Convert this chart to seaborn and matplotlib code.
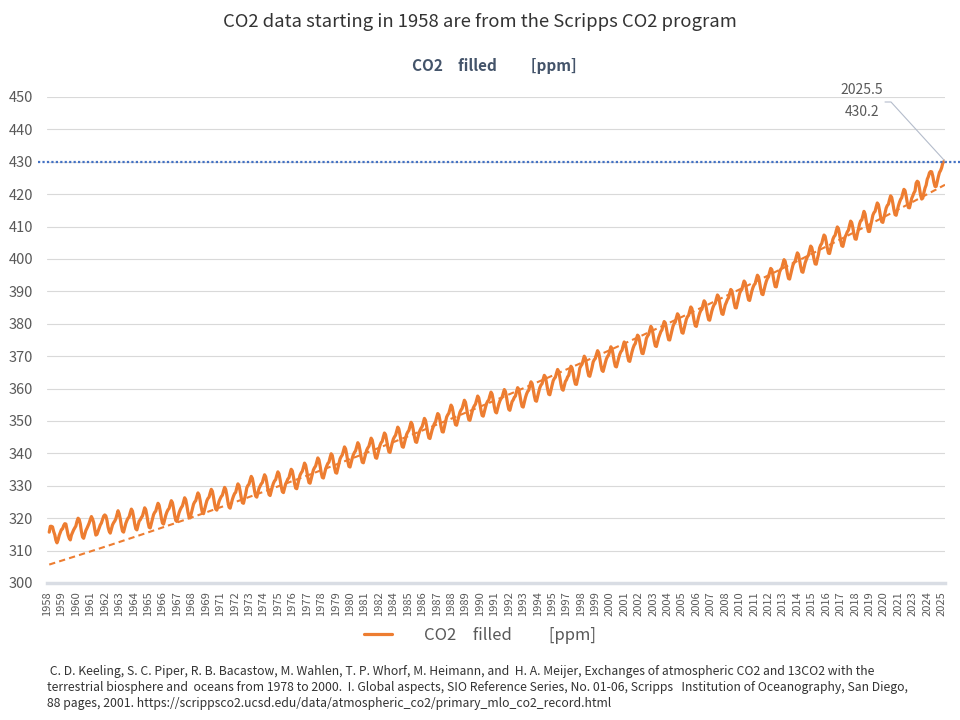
import numpy as np
import pandas as pd
import matplotlib
matplotlib.use("Agg")
import matplotlib.pyplot as plt
import seaborn as sns
from matplotlib.lines import Line2D
from matplotlib.transforms import blended_transform_factory

# 1. data (monthly, Scripps "filled", Jan 1958 - Jun 2025)
# Jan/Feb 1958 carry the source's missing flag -99.99

START_YEAR = 1958
MISSING = -99.99

co2_ppm = [
    -99.99, -99.99, 315.7, 317.5, 317.5, 317.3, 315.9, 314.9, 313.2, 312.4, 313.3, 314.7,  # 1958
    315.6, 316.5, 316.7, 317.7, 318.3, 318.2, 316.5, 314.8, 313.8, 313.3, 314.8, 315.6,  # 1959
    316.4, 317.0, 317.6, 319.0, 320.0, 319.6, 318.2, 315.9, 314.2, 313.8, 315.0, 316.2,  # 1960
    316.9, 317.7, 318.5, 319.6, 320.5, 319.8, 318.7, 316.6, 314.8, 315.0, 316.0, 317.1,  # 1961
    317.9, 318.5, 319.5, 320.6, 321.0, 320.7, 319.4, 317.3, 316.0, 315.4, 316.7, 317.9,  # 1962
    318.6, 319.1, 319.8, 321.0, 322.3, 321.4, 319.8, 317.6, 316.0, 315.7, 317.1, 318.4,  # 1963
    319.3, 320.0, 320.4, 321.7, 322.8, 322.2, 320.4, 318.3, 316.7, 316.4, 317.8, 319.1,  # 1964
    319.5, 320.2, 320.7, 322.0, 323.2, 322.6, 320.8, 318.7, 317.2, 317.0, 318.4, 319.7,  # 1965
    321.1, 321.8, 322.2, 323.5, 324.6, 324.0, 322.2, 320.1, 318.5, 318.2, 319.6, 320.9,  # 1966
    321.9, 322.6, 323.0, 324.3, 325.4, 324.8, 323.0, 320.9, 319.3, 319.0, 320.4, 321.7,  # 1967
    322.6, 323.3, 323.8, 325.1, 326.3, 325.7, 323.9, 321.8, 320.3, 320.1, 321.5, 322.8,  # 1968
    324.3, 325.0, 325.4, 326.7, 327.8, 327.2, 325.4, 323.3, 321.7, 321.4, 322.8, 324.1,  # 1969
    325.4, 326.1, 326.5, 327.8, 328.9, 328.3, 326.5, 324.4, 322.8, 322.5, 323.9, 325.2,  # 1970
    326.0, 326.7, 327.1, 328.4, 329.5, 328.9, 327.1, 325.0, 323.4, 323.1, 324.5, 325.8,  # 1971
    326.8, 327.6, 328.0, 329.4, 330.6, 330.1, 328.3, 326.3, 324.8, 324.6, 326.1, 327.5,  # 1972
    329.4, 330.1, 330.5, 331.8, 332.9, 332.3, 330.5, 328.4, 326.8, 326.5, 327.9, 329.2,  # 1973
    329.9, 330.6, 331.0, 332.3, 333.4, 332.8, 331.0, 328.9, 327.3, 327.0, 328.4, 329.7,  # 1974
    330.8, 331.5, 331.9, 333.2, 334.3, 333.7, 331.9, 329.8, 328.2, 327.9, 329.3, 330.6,  # 1975
    331.3, 332.1, 332.5, 333.9, 335.1, 334.6, 332.8, 330.8, 329.3, 329.1, 330.6, 332.0,  # 1976
    333.3, 334.0, 334.5, 335.8, 337.0, 336.4, 334.6, 332.5, 331.0, 330.8, 332.2, 333.5,  # 1977
    334.9, 335.6, 336.1, 337.4, 338.6, 338.0, 336.2, 334.1, 332.6, 332.4, 333.8, 335.1,  # 1978
    336.1, 336.9, 337.3, 338.7, 339.9, 339.4, 337.6, 335.6, 334.1, 333.9, 335.4, 336.8,  # 1979
    338.3, 339.0, 339.5, 340.8, 342.0, 341.4, 339.6, 337.5, 336.0, 335.8, 337.2, 338.5,  # 1980
    339.6, 340.3, 340.8, 342.1, 343.3, 342.7, 340.9, 338.8, 337.3, 337.1, 338.5, 339.8,  # 1981
    341.0, 341.7, 342.2, 343.5, 344.7, 344.1, 342.3, 340.2, 338.7, 338.5, 339.9, 341.2,  # 1982
    342.5, 343.3, 343.7, 345.1, 346.3, 345.8, 344.0, 342.0, 340.5, 340.3, 341.8, 343.2,  # 1983
    344.4, 345.1, 345.6, 346.9, 348.1, 347.5, 345.7, 343.6, 342.1, 341.9, 343.3, 344.6,  # 1984
    345.9, 346.6, 347.1, 348.4, 349.6, 349.0, 347.2, 345.1, 343.6, 343.4, 344.8, 346.1,  # 1985
    347.1, 347.8, 348.3, 349.6, 350.8, 350.2, 348.4, 346.3, 344.8, 344.6, 346.0, 347.3,  # 1986
    348.3, 349.2, 349.7, 351.1, 352.3, 351.9, 350.2, 348.2, 346.7, 346.6, 348.1, 349.5,  # 1987
    351.2, 351.9, 352.4, 353.7, 354.9, 354.3, 352.5, 350.4, 348.9, 348.7, 350.1, 351.4,  # 1988
    352.7, 353.4, 353.9, 355.2, 356.4, 355.8, 354.0, 351.9, 350.4, 350.2, 351.6, 352.9,  # 1989
    354.0, 354.7, 355.2, 356.5, 357.7, 357.1, 355.3, 353.2, 351.7, 351.5, 352.9, 354.2,  # 1990
    355.4, 356.1, 356.5, 357.8, 358.9, 358.3, 356.5, 354.4, 352.8, 352.5, 353.9, 355.2,  # 1991
    356.2, 356.9, 357.3, 358.6, 359.7, 359.1, 357.3, 355.2, 353.6, 353.3, 354.7, 356.0,  # 1992
    356.5, 357.3, 357.7, 359.1, 360.3, 359.8, 358.0, 356.0, 354.5, 354.3, 355.8, 357.2,  # 1993
    358.3, 359.1, 359.5, 360.9, 362.1, 361.6, 359.8, 357.8, 356.3, 356.1, 357.6, 359.0,  # 1994
    360.3, 361.1, 361.5, 362.9, 364.1, 363.6, 361.8, 359.8, 358.3, 358.1, 359.6, 361.0,  # 1995
    362.4, 363.1, 363.5, 364.8, 365.9, 365.3, 363.5, 361.4, 359.8, 359.5, 360.9, 362.2,  # 1996
    362.7, 363.6, 364.1, 365.6, 366.9, 366.4, 364.8, 362.8, 361.4, 361.3, 362.9, 364.3,  # 1997
    366.3, 367.0, 367.5, 368.8, 370.0, 369.4, 367.6, 365.5, 364.0, 363.8, 365.2, 366.5,  # 1998
    368.2, 368.9, 369.3, 370.6, 371.7, 371.1, 369.3, 367.2, 365.6, 365.3, 366.7, 368.0,  # 1999
    369.2, 369.9, 370.4, 371.7, 372.9, 372.3, 370.5, 368.4, 366.9, 366.7, 368.1, 369.4,  # 2000
    370.6, 371.4, 371.8, 373.2, 374.4, 373.9, 372.1, 370.1, 368.6, 368.4, 369.9, 371.3,  # 2001
    372.5, 373.4, 373.9, 375.3, 376.5, 376.1, 374.4, 372.4, 370.9, 370.8, 372.3, 373.7,  # 2002
    375.5, 376.2, 376.7, 378.0, 379.2, 378.6, 376.8, 374.7, 373.2, 373.0, 374.4, 375.7,  # 2003
    376.7, 377.6, 378.1, 379.5, 380.7, 380.3, 378.6, 376.6, 375.1, 375.0, 376.5, 377.9,  # 2004
    379.3, 380.1, 380.5, 381.9, 383.1, 382.6, 380.8, 378.8, 377.3, 377.1, 378.6, 380.0,  # 2005
    381.4, 382.2, 382.6, 384.0, 385.2, 384.7, 382.9, 380.9, 379.4, 379.2, 380.7, 382.1,  # 2006
    383.3, 384.1, 384.5, 385.9, 387.1, 386.6, 384.8, 382.8, 381.3, 381.1, 382.6, 384.0,  # 2007
    385.1, 385.9, 386.3, 387.7, 388.9, 388.4, 386.6, 384.6, 383.1, 382.9, 384.4, 385.8,  # 2008
    386.6, 387.5, 388.0, 389.4, 390.6, 390.2, 388.5, 386.5, 385.0, 384.9, 386.4, 387.8,  # 2009
    389.4, 390.2, 390.6, 392.0, 393.2, 392.7, 390.9, 388.9, 387.4, 387.2, 388.7, 390.1,  # 2010
    391.2, 392.0, 392.4, 393.8, 395.0, 394.5, 392.7, 390.7, 389.2, 389.0, 390.5, 391.9,  # 2011
    393.1, 394.0, 394.5, 395.9, 397.1, 396.7, 395.0, 393.0, 391.5, 391.4, 392.9, 394.3,  # 2012
    396.0, 396.8, 397.2, 398.6, 399.8, 399.3, 397.5, 395.5, 394.0, 393.8, 395.3, 396.7,  # 2013
    398.1, 398.9, 399.3, 400.7, 401.9, 401.4, 399.6, 397.6, 396.1, 395.9, 397.4, 398.8,  # 2014
    399.8, 400.7, 401.2, 402.7, 404.0, 403.5, 401.9, 399.9, 398.5, 398.4, 400.0, 401.4,  # 2015
    403.4, 404.3, 404.8, 406.2, 407.4, 407.0, 405.3, 403.3, 401.8, 401.7, 403.2, 404.6,  # 2016
    406.1, 406.9, 407.3, 408.7, 409.9, 409.4, 407.6, 405.6, 404.1, 403.9, 405.4, 406.8,  # 2017
    407.5, 408.4, 408.9, 410.4, 411.7, 411.2, 409.6, 407.6, 406.2, 406.1, 407.7, 409.1,  # 2018
    410.8, 411.8, 412.0, 413.3, 414.7, 413.9, 411.8, 410.0, 408.5, 408.5, 410.3, 411.8,  # 2019
    413.5, 414.3, 414.7, 416.1, 417.3, 416.8, 415.0, 413.0, 411.5, 411.3, 412.8, 414.2,  # 2020
    415.7, 416.5, 416.9, 418.3, 419.5, 419.0, 417.2, 415.2, 413.7, 413.5, 415.0, 416.4,  # 2021
    417.5, 418.4, 418.9, 420.3, 421.5, 421.1, 419.4, 417.4, 415.9, 415.8, 417.3, 418.7,  # 2022
    419.5, 420.4, 421.0, 423.4, 424.0, 423.7, 421.8, 419.7, 418.5, 418.8, 420.5, 421.9,  # 2023
    422.8, 424.6, 425.4, 426.6, 427.0, 426.9, 425.6, 423.7, 422.4, 422.4, 423.9, 425.4,  # 2024
    426.7, 427.3, 428.2, 429.6, 430.1, 430.2,  # 2025
]

TITLE = "CO2 data starting in 1958 are from the Scripps CO2 program"
SERIES_NAME = "CO2\u3000filled\u3000\u3000 [ppm]"
REF_LINE = 430
FOOTNOTE = (
    " C. D. Keeling, S. C. Piper, R. B. Bacastow, M. Wahlen, T. P. Whorf, M. Heimann, and  H. A. Meijer, "
    "Exchanges of atmospheric CO2 and 13CO2 with the\n"
    "terrestrial biosphere and  oceans from 1978 to 2000.  I. Global aspects, SIO Reference Series, "
    "No. 01-06, Scripps   Institution of Oceanography, San Diego,\n"
    "88 pages, 2001. https://scrippsco2.ucsd.edu/data/atmospheric_co2/primary_mlo_co2_record.html"
)

ORANGE = "#ED7D31"
BLUE = "#4472C4"
TXT = "#595959"
GRID = "#D9D9D9"
Y_MIN, Y_MAX = 300, 450

# 2. table (category index = row of the sheet)

df = pd.DataFrame({"idx": np.arange(len(co2_ppm)), "co2": co2_ppm})
n_cat = len(df)
ok = df["co2"] != MISSING

# polynomial (order 2) trendline over every row, flags included, as the sheet does
coef = np.polyfit(df["idx"], df["co2"], 2)
df["trend"] = np.polyval(coef, df["idx"])

# 3. figure

sns.set_theme(style="white")
plt.rcParams["font.family"] = ["Noto Sans CJK JP", "DejaVu Sans"]

fig = plt.figure(figsize=(9.6, 7.2), dpi=100)
ax = fig.add_axes([47 / 960, 137 / 720, 898 / 960, 486 / 720])

sns.lineplot(data=df[ok], x="idx", y="co2", ax=ax, color=ORANGE, lw=2.3, legend=False)
# flagged rows sit on the axis floor
flag = df[~ok].assign(co2=Y_MIN)
sns.lineplot(data=flag, x="idx", y="co2", ax=ax, color=ORANGE, lw=1.2, legend=False, clip_on=False)
sns.lineplot(data=df[ok], x="idx", y="trend", ax=ax, color=ORANGE, lw=1.5, legend=False)
ax.lines[2].set_dashes((3, 2))

ax.set_xlim(0, n_cat - 1)
ax.set_ylim(Y_MIN, Y_MAX)
ax.set_yticks(np.arange(Y_MIN, Y_MAX + 1, 10))
ax.yaxis.grid(True, color=GRID, lw=0.8)
ax.set_axisbelow(True)

tick_idx = np.arange(0, n_cat, 13)
ax.set_xticks(tick_idx)
ax.set_xticklabels([str(START_YEAR + i // 12) for i in tick_idx], rotation=90)
ax.tick_params(axis="x", labelsize=8, colors=TXT, length=4, width=1, color="#D9DDE4", pad=2)
ax.tick_params(axis="y", labelsize=10.5, colors=TXT, length=0, pad=10)
ax.set_xlabel("")
ax.set_ylabel("")
for s in ["top", "right", "left"]:
    ax.spines[s].set_visible(False)
ax.spines["bottom"].set_color("#D9DDE4")
ax.spines["bottom"].set_linewidth(2.5)

# dotted reference line at 430 (runs past the plot area)
tr = blended_transform_factory(fig.transFigure, ax.transData)
fig.add_artist(Line2D([38 / 960, 1.0], [REF_LINE, REF_LINE], transform=tr, color=BLUE,
                      lw=1.6, linestyle=(0, (1, 1))))

# label on the last point
last_idx = df["idx"].iloc[-1]
last_val = df["co2"].iloc[-1]
last_year = START_YEAR + (last_idx + 0.5) / 12
px, py = ax.transData.transform((last_idx, last_val))
fig.add_artist(Line2D([885, 891, px], [720 - 102, 720 - 102, py], transform=None,
                      color="#B4BCCB", lw=0.8))
fig.text(862 / 960, 1 - 90 / 720, f"{last_year:.1f}", ha="center", va="center", fontsize=10, color=TXT)
fig.text(862 / 960, 1 - 112 / 720, f"{last_val:.1f}", ha="center", va="center", fontsize=10, color=TXT)

# titles
fig.text(0.5, 1 - 22 / 720, TITLE, ha="center", va="center", fontsize=13.3, color="#333333")
fig.text(494 / 960, 1 - 66 / 720, SERIES_NAME, ha="center", va="center", fontsize=11,
         fontweight="bold", color="#44546A")

# legend
leg = fig.legend(handles=[ax.lines[0]], labels=[SERIES_NAME], loc="center",
                 bbox_to_anchor=(0.5, 1 - 635 / 720), frameon=False, fontsize=12,
                 handlelength=1.7, handletextpad=1.9)
for t in leg.get_texts():
    t.set_color(TXT)
leg.legend_handles[0].set_linewidth(2.3)

# footnote
fig.text(47 / 960, 1 - 665 / 720, FOOTNOTE, ha="left", va="top", fontsize=8.8,
         color="#333333", linespacing=1.3)

fig.savefig("out.png", dpi=100)
